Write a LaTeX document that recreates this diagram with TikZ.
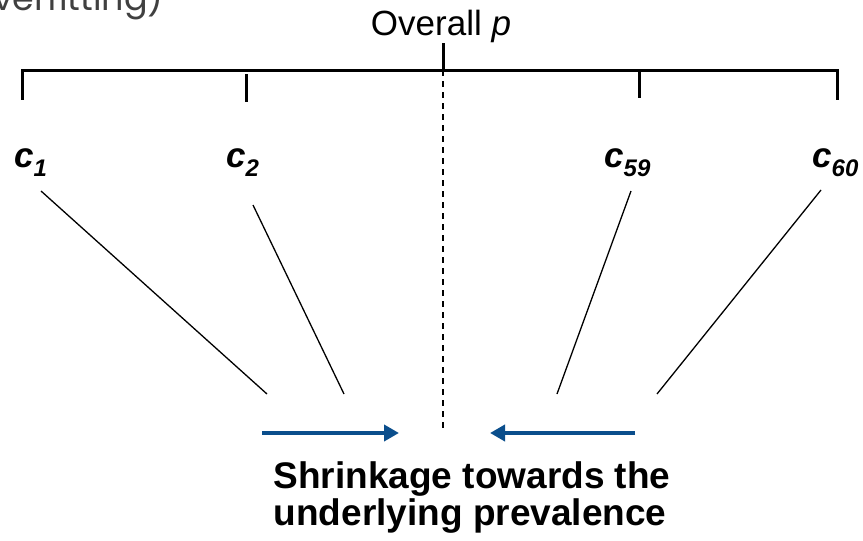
\documentclass[tikz,border=0pt]{standalone}
\usepackage{fontspec}
\setmainfont{Liberation Sans}
\newfontfamily\grayfont{Poppins}
\usetikzlibrary{arrows.meta}
\definecolor{arrowblue}{RGB}{10,78,140}
\definecolor{slidegray}{RGB}{64,64,64}
\tikzset{
  bracket/.style={line width=3pt, line cap=rect},
  tick/.style={line width=3pt},
  thin/.style={line width=1.3pt},
  midline/.style={line width=2pt, dash pattern=on 6pt off 5pt},
  shrinkarrow/.style={line width=4pt, color=arrowblue, -{Triangle[length=15pt,width=16pt]}},
  clabel/.style={anchor=base west, inner sep=0pt, font=\fontsize{35}{40}\selectfont\bfseries\itshape},
  bigtext/.style={inner sep=0pt, font=\fontsize{35}{40}\selectfont},
  captext/.style={inner sep=0pt, anchor=base, font=\fontsize{37}{40}\selectfont\bfseries},
}
\newcommand{\csub}[1]{\raisebox{-9pt}{\fontsize{24}{24}\selectfont #1}}
\begin{document}
\begin{tikzpicture}[x=1pt,y=-1pt]
\useasboundingbox (0,0) rectangle (863,541);
% clipped slide text at top-left
\begin{scope}
\clip (0,0) rectangle (863,541);
\node[anchor=base east, inner sep=0pt, text=slidegray, font=\grayfont\fontsize{35}{40}\selectfont] (ovf) at (164,10) {(overfitting)};
\end{scope}
% overall p
\node[bigtext, anchor=base] (overall) at (441,35) {Overall \textit{p}};
% bracket
\coordinate (bl) at (22,70);
\coordinate (br) at (837,70);
\draw[bracket] (22,98) -- (bl) -- (br) -- (837,98);
\coordinate (ctop) at (443,43);
\coordinate (cmid) at (443,70);
\coordinate (cbot) at (443,430);
\draw[tick] (ctop) -- (cmid);
\draw[midline] (cmid) -- (cbot);
\coordinate (t2a) at (246,74);  \coordinate (t2b) at (246,102);
\coordinate (t59a) at (639,70); \coordinate (t59b) at (639,98);
\draw[tick] (t2a) -- (t2b);
\draw[tick] (t59a) -- (t59b);
% labels
\node[clabel] (c1) at (14,167) {c\csub{1}};
\node[clabel] (c2) at (226,167) {c\csub{2}};
\node[clabel] (c59) at (604,167) {c\csub{59}};
\node[clabel] (c60) at (812,167) {c\csub{60}};
% thin connectors
\coordinate (c1s) at (41,191);  \coordinate (c1e) at (267,394);
\coordinate (c2s) at (253,205); \coordinate (c2e) at (344,394);
\coordinate (c59s) at (631,191); \coordinate (c59e) at (557,394);
\coordinate (c60s) at (821,190); \coordinate (c60e) at (657,394);
\draw[thin] (c1s) -- (c1e);
\draw[thin] (c2s) -- (c2e);
\draw[thin] (c59s) -- (c59e);
\draw[thin] (c60s) -- (c60e);
% arrows
\coordinate (la) at (262,433); \coordinate (lb) at (399,433);
\coordinate (ra) at (635,433); \coordinate (rb) at (490,433);
\draw[shrinkarrow] (la) -- (lb);
\draw[shrinkarrow] (ra) -- (rb);
% caption
\node[captext] (cap1) at (472,488) {Shrinkage towards the};
\node[captext] (cap2) at (470,525) {underlying prevalence};
\end{tikzpicture}
\end{document}
